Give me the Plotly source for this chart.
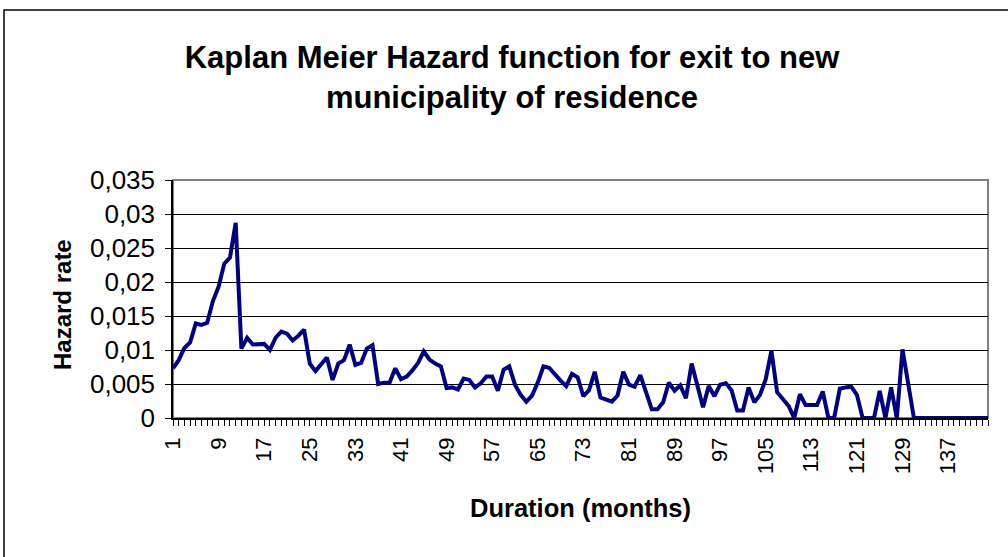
import plotly.graph_objects as go

months = list(range(1, 145))
hazard = [
    0.0073, 0.0085, 0.0103, 0.0111, 0.0139, 0.0137, 0.0140, 0.0172, 0.0193, 0.0227,
    0.0236, 0.0287, 0.0102, 0.0118, 0.0108, 0.0108, 0.0109, 0.0100, 0.0118, 0.0127,
    0.0124, 0.0114, 0.0121, 0.0130, 0.0080, 0.0069, 0.0078, 0.0089, 0.0056, 0.0080,
    0.0085, 0.0108, 0.0078, 0.0081, 0.0102, 0.0107, 0.0050, 0.0052, 0.0052, 0.0073,
    0.0057, 0.0061, 0.0070, 0.0081, 0.0098, 0.0086, 0.0080, 0.0076, 0.0044, 0.0045,
    0.0042, 0.0058, 0.0056, 0.0045, 0.0051, 0.0061, 0.0061, 0.0040, 0.0071, 0.0076,
    0.0049, 0.0034, 0.0024, 0.0033, 0.0052, 0.0076, 0.0074, 0.0064, 0.0055, 0.0047,
    0.0065, 0.0060, 0.0032, 0.0041, 0.0068, 0.0030, 0.0027, 0.0024, 0.0033, 0.0068,
    0.0049, 0.0046, 0.0063, 0.0036, 0.0013, 0.0013, 0.0023, 0.0052, 0.0040, 0.0048,
    0.0029, 0.0080, 0.0047, 0.0016, 0.0047, 0.0032, 0.0049, 0.0051, 0.0041, 0.0011,
    0.0011, 0.0045, 0.0023, 0.0034, 0.0057, 0.0099, 0.0038, 0.0027, 0.0018, 0.0000,
    0.0035, 0.0019, 0.0019, 0.0019, 0.0039, 0.0000, 0.0000, 0.0043, 0.0045, 0.0046,
    0.0034, 0.0000, 0.0000, 0.0000, 0.0040, 0.0000, 0.0045, 0.0000, 0.0101, 0.0049,
    0.0000, 0.0000, 0.0000, 0.0000, 0.0000, 0.0000, 0.0000, 0.0000, 0.0000, 0.0000,
    0.0000, 0.0000, 0.0000, 0.0000,
]
x_tick_vals = [1, 9, 17, 25, 33, 41, 49, 57, 65, 73, 81, 89, 97, 105, 113, 121, 129, 137]
x_tick_labels = [str(v) for v in x_tick_vals]
y_tick_vals = [0, 0.005, 0.01, 0.015, 0.02, 0.025, 0.03, 0.035]
y_tick_labels = ["0", "0,005", "0,01", "0,015", "0,02", "0,025", "0,03", "0,035"]

title_text = "Kaplan Meier Hazard function for exit to new<br>municipality of residence"
x_title = "Duration (months)"
y_title = "Hazard rate"

FONT = "Arial, 'Liberation Sans', sans-serif"
W, H = 1008, 557
L, R, T, B = 173, 20, 180, 139
pw, ph = W - L - R, H - T - B

def px_x(p):
    return (p - L) / pw

def px_y(p):
    return (H - B - p) / ph

fig = go.Figure()
fig.add_trace(go.Scatter(
    x=months, y=hazard, mode="lines",
    line=dict(color="#000080", width=4),
    hoverinfo="skip", showlegend=False,
))

fig.update_layout(
    width=W, height=H,
    margin=dict(l=L, r=R, t=T, b=B, pad=0),
    paper_bgcolor="white", plot_bgcolor="white",
    font=dict(family=FONT, color="black"),
    title=dict(
        text=title_text, x=512 / W, xref="container", xanchor="center",
        y=1 - 68 / H, yref="container", yanchor="middle",
        font=dict(family=FONT, size=31, color="black", weight="bold"),
    ),
    showlegend=False,
)

fig.update_xaxes(
    range=[1, 144], showgrid=False, zeroline=False,
    showline=True, linecolor="black", linewidth=1.5,
    tickmode="array", tickvals=x_tick_vals, ticktext=x_tick_labels,
    ticks="outside", ticklen=6, tickcolor="black", tickwidth=1,
    tickangle=-90, tickfont=dict(family=FONT, size=22, color="black"),
    ticklabelstandoff=3,
    minor=dict(dtick=1, tick0=1, ticks="outside", ticklen=6, tickcolor="black", tickwidth=1, showgrid=False),
)
fig.update_yaxes(
    range=[0, 0.035], showgrid=True, gridcolor="black", gridwidth=1,
    zeroline=False, showline=True, linecolor="black", linewidth=1.5,
    tickmode="array", tickvals=y_tick_vals, ticktext=y_tick_labels,
    ticks="outside", ticklen=6, tickcolor="black", tickwidth=1,
    tickfont=dict(family=FONT, size=26, color="black"),
    ticklabelstandoff=5,
)

# plot-area border (gray) and outer chart border (black)
fig.add_shape(type="rect", xref="paper", yref="paper", x0=0, x1=1, y0=0, y1=1,
              line=dict(color="#808080", width=2), layer="below")
fig.add_shape(type="rect", xref="paper", yref="paper",
              x0=px_x(4), y0=px_y(10), x1=px_x(1030), y1=px_y(580),
              line=dict(color="black", width=1.5), layer="above")

fig.add_annotation(text=f"<b>{y_title}</b>", xref="paper", yref="paper",
                   x=px_x(62), y=px_y(305), showarrow=False, textangle=-90,
                   xanchor="center", yanchor="middle",
                   font=dict(family=FONT, size=24, color="black"))
fig.add_annotation(text=f"<b>{x_title}</b>", xref="paper", yref="paper",
                   x=px_x(580), y=px_y(508), showarrow=False,
                   xanchor="center", yanchor="middle",
                   font=dict(family=FONT, size=25.5, color="black"))

fig.write_html("out.html", config={"displayModeBar": False},
               post_script="document.body.style.margin='0';document.body.style.padding='0';")
